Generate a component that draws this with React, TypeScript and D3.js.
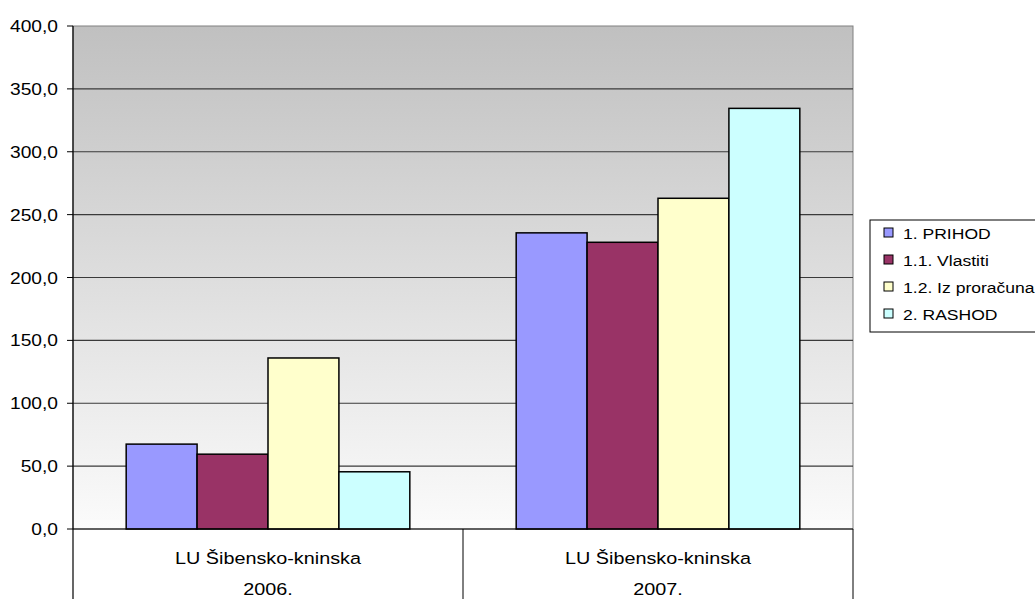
import * as d3 from "d3";

const categories = ["LU Šibensko-kninska|2006.", "LU Šibensko-kninska|2007."];
const seriesNames = ["1. PRIHOD", "1.1. Vlastiti", "1.2. Iz proračuna", "2. RASHOD"];
const seriesColors = ["#9999ff", "#993366", "#ffffcc", "#ccffff"];
const prihod = [67.5, 235.5];
const vlastiti = [59.5, 228.0];
const izProracuna = [136.0, 263.0];
const rashod = [45.5, 334.5];
const yTicks = [0, 50, 100, 150, 200, 250, 300, 350, 400];

const seriesValues = [prihod, vlastiti, izProracuna, rashod];

// stretched text, like the original export
function WideText({ x, y, size, sx, anchor, children }: any) {
  return (
    <text
      transform={`translate(${x},${y}) scale(${sx},1)`}
      textAnchor={anchor}
      fontSize={size}
      fill="#000"
    >
      {children}
    </text>
  );
}

export default function App() {
  const width = 1035;
  const height = 599;
  const left = 73;
  const right = 853;
  const top = 26;
  const bottom = 529;

  const x0 = d3.scaleBand<number>().domain(d3.range(categories.length)).range([left, right]);
  const bw = x0.bandwidth();
  const barW = bw / (4 + 1.5);
  const y = d3.scaleLinear().domain([0, 400]).range([bottom, top]);
  const fmt = (v: number) => v.toFixed(1).replace(".", ",");

  return (
    <svg
      width={width}
      height={height}
      style={{ position: "absolute", left: 0, top: 0, fontFamily: "Arial, 'Liberation Sans', sans-serif" }}
    >
      <defs>
        <linearGradient id="bg" x1="0" y1="0" x2="0" y2="1">
          <stop offset="0%" stopColor="#c0c0c0" />
          <stop offset="100%" stopColor="#fbfbfb" />
        </linearGradient>
      </defs>
      <rect x={0} y={0} width={width} height={height} fill="#fff" />
      <rect x={left} y={top} width={right - left} height={bottom - top} fill="url(#bg)" stroke="#808080" strokeWidth={1} />

      {/* grid + tick labels */}
      {yTicks.map((t) => (
        <g key={t}>
          {t > 0 && t < 400 && (
            <line x1={left} x2={right} y1={y(t)} y2={y(t)} stroke="#3a3a3a" strokeWidth={1.2} />
          )}
          <line x1={left - 6} x2={left} y1={y(t)} y2={y(t)} stroke="#000" />
          <WideText x={58} y={y(t) + 6} size={16} sx={1.2} anchor="end">
            {fmt(t)}
          </WideText>
        </g>
      ))}

      {/* bars */}
      {categories.map((c, i) => {
        const start = x0(i)! + (bw - barW * 4) / 2;
        return seriesValues.map((vals, s) => (
          <rect
            key={`${i}-${s}`}
            x={start + s * barW}
            y={y(vals[i])}
            width={barW}
            height={bottom - y(vals[i])}
            fill={seriesColors[s]}
            stroke="#000"
            strokeWidth={1.5}
          />
        ));
      })}

      {/* axes */}
      <line x1={left} x2={left} y1={top} y2={height} stroke="#000" strokeWidth={1.2} />
      <line x1={left} x2={right} y1={bottom} y2={bottom} stroke="#000" strokeWidth={1.2} />
      {categories.map((_, i) => (
        <line key={i} x1={x0(i)! + bw} x2={x0(i)! + bw} y1={bottom} y2={height} stroke="#000" strokeWidth={1} />
      ))}
      {categories.map((c, i) => {
        const [a, b] = c.split("|");
        const cx = x0(i)! + bw / 2;
        return (
          <g key={c + i}>
            <WideText x={cx} y={564} size={16.5} sx={1.2} anchor="middle">{a}</WideText>
            <WideText x={cx} y={595} size={16.5} sx={1.2} anchor="middle">{b}</WideText>
          </g>
        );
      })}

      {/* legend */}
      <rect x={870} y={220} width={180} height={112} fill="#fff" stroke="#000" strokeWidth={1} />
      {seriesNames.map((n, s) => (
        <g key={n}>
          <rect x={884} y={228 + s * 27} width={9} height={9} fill={seriesColors[s]} stroke="#000" strokeWidth={1} />
          <WideText x={903} y={239 + s * 27} size={15} sx={1.17} anchor="start">{n}</WideText>
        </g>
      ))}
    </svg>
  );
}
